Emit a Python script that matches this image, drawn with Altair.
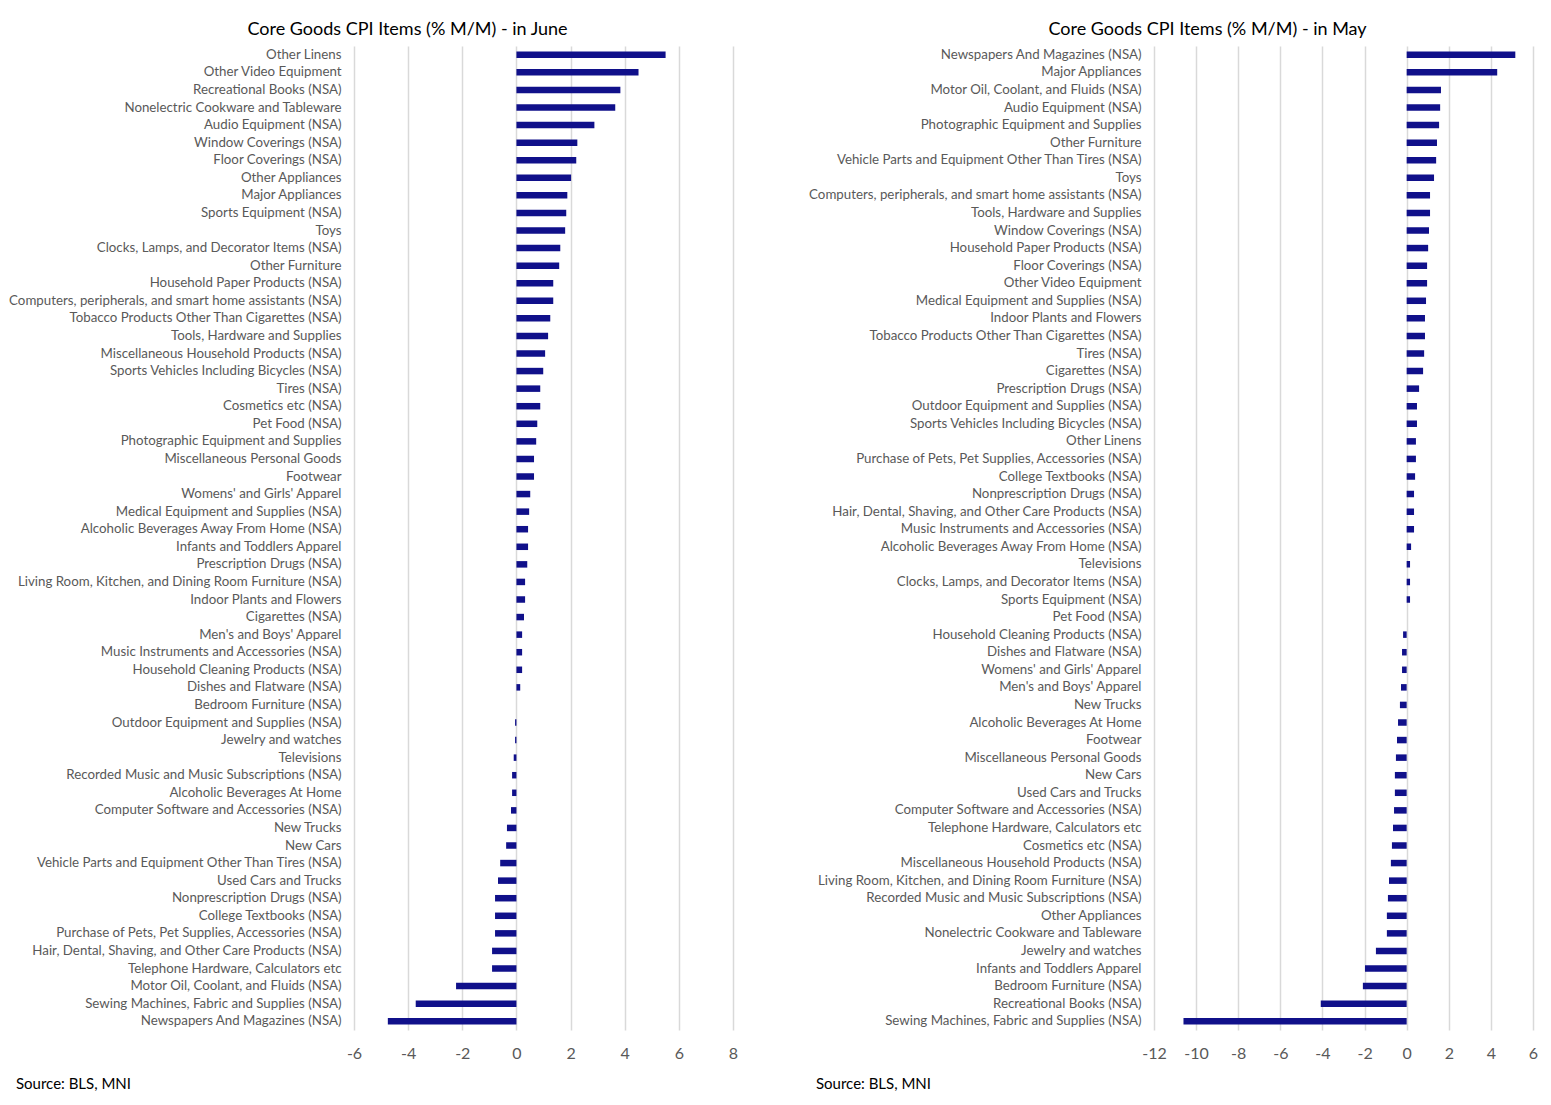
import altair as alt
import pandas as pd

june_items = [
    "Other Linens", "Other Video Equipment", "Recreational Books (NSA)",
    "Nonelectric Cookware and Tableware", "Audio Equipment (NSA)", "Window Coverings (NSA)",
    "Floor Coverings (NSA)", "Other Appliances", "Major Appliances", "Sports Equipment (NSA)",
    "Toys", "Clocks, Lamps, and Decorator Items (NSA)", "Other Furniture",
    "Household Paper Products (NSA)", "Computers, peripherals, and smart home assistants (NSA)",
    "Tobacco Products Other Than Cigarettes (NSA)", "Tools, Hardware and Supplies",
    "Miscellaneous Household Products (NSA)", "Sports Vehicles Including Bicycles (NSA)",
    "Tires (NSA)", "Cosmetics etc (NSA)", "Pet Food (NSA)", "Photographic Equipment and Supplies",
    "Miscellaneous Personal Goods", "Footwear", "Womens' and Girls' Apparel",
    "Medical Equipment and Supplies (NSA)", "Alcoholic Beverages Away From Home (NSA)",
    "Infants and Toddlers Apparel", "Prescription Drugs (NSA)",
    "Living Room, Kitchen, and Dining Room Furniture (NSA)", "Indoor Plants and Flowers",
    "Cigarettes (NSA)", "Men's and Boys' Apparel", "Music Instruments and Accessories (NSA)",
    "Household Cleaning Products (NSA)", "Dishes and Flatware (NSA)", "Bedroom Furniture (NSA)",
    "Outdoor Equipment and Supplies (NSA)", "Jewelry and watches", "Televisions",
    "Recorded Music and Music Subscriptions (NSA)", "Alcoholic Beverages At Home",
    "Computer Software and Accessories (NSA)", "New Trucks", "New Cars",
    "Vehicle Parts and Equipment Other Than Tires (NSA)", "Used Cars and Trucks",
    "Nonprescription Drugs (NSA)", "College Textbooks (NSA)",
    "Purchase of Pets, Pet Supplies, Accessories (NSA)",
    "Hair, Dental, Shaving, and Other Care Products (NSA)", "Telephone Hardware, Calculators etc",
    "Motor Oil, Coolant, and Fluids (NSA)", "Sewing Machines, Fabric and Supplies (NSA)",
    "Newspapers And Magazines (NSA)",
]
june_values = [
    5.51, 4.51, 3.84, 3.65, 2.88, 2.25, 2.21, 2.02, 1.88, 1.84,
    1.80, 1.62, 1.58, 1.36, 1.36, 1.25, 1.17, 1.06, 0.99, 0.88,
    0.88, 0.77, 0.73, 0.65, 0.65, 0.51, 0.47, 0.43, 0.43, 0.40,
    0.32, 0.32, 0.28, 0.21, 0.21, 0.21, 0.14, 0.0, -0.05, -0.05,
    -0.10, -0.16, -0.16, -0.20, -0.35, -0.38, -0.60, -0.68, -0.79, -0.79,
    -0.79, -0.90, -0.90, -2.23, -3.72, -4.75,
]

may_items = [
    "Newspapers And Magazines (NSA)", "Major Appliances", "Motor Oil, Coolant, and Fluids (NSA)",
    "Audio Equipment (NSA)", "Photographic Equipment and Supplies", "Other Furniture",
    "Vehicle Parts and Equipment Other Than Tires (NSA)", "Toys",
    "Computers, peripherals, and smart home assistants (NSA)", "Tools, Hardware and Supplies",
    "Window Coverings (NSA)", "Household Paper Products (NSA)", "Floor Coverings (NSA)",
    "Other Video Equipment", "Medical Equipment and Supplies (NSA)", "Indoor Plants and Flowers",
    "Tobacco Products Other Than Cigarettes (NSA)", "Tires (NSA)", "Cigarettes (NSA)",
    "Prescription Drugs (NSA)", "Outdoor Equipment and Supplies (NSA)",
    "Sports Vehicles Including Bicycles (NSA)", "Other Linens",
    "Purchase of Pets, Pet Supplies, Accessories (NSA)", "College Textbooks (NSA)",
    "Nonprescription Drugs (NSA)", "Hair, Dental, Shaving, and Other Care Products (NSA)",
    "Music Instruments and Accessories (NSA)", "Alcoholic Beverages Away From Home (NSA)",
    "Televisions", "Clocks, Lamps, and Decorator Items (NSA)", "Sports Equipment (NSA)",
    "Pet Food (NSA)", "Household Cleaning Products (NSA)", "Dishes and Flatware (NSA)",
    "Womens' and Girls' Apparel", "Men's and Boys' Apparel", "New Trucks",
    "Alcoholic Beverages At Home", "Footwear", "Miscellaneous Personal Goods", "New Cars",
    "Used Cars and Trucks", "Computer Software and Accessories (NSA)",
    "Telephone Hardware, Calculators etc", "Cosmetics etc (NSA)",
    "Miscellaneous Household Products (NSA)",
    "Living Room, Kitchen, and Dining Room Furniture (NSA)",
    "Recorded Music and Music Subscriptions (NSA)", "Other Appliances",
    "Nonelectric Cookware and Tableware", "Jewelry and watches", "Infants and Toddlers Apparel",
    "Bedroom Furniture (NSA)", "Recreational Books (NSA)",
    "Sewing Machines, Fabric and Supplies (NSA)",
]
may_values = [
    5.16, 4.30, 1.63, 1.59, 1.54, 1.44, 1.40, 1.30, 1.11, 1.11,
    1.06, 1.02, 0.97, 0.97, 0.92, 0.87, 0.87, 0.83, 0.78, 0.59,
    0.49, 0.49, 0.44, 0.44, 0.40, 0.35, 0.35, 0.35, 0.21, 0.16,
    0.16, 0.16, 0.0, -0.17, -0.22, -0.22, -0.27, -0.32, -0.41, -0.46,
    -0.51, -0.56, -0.56, -0.60, -0.65, -0.70, -0.75, -0.84, -0.89, -0.94,
    -0.94, -1.46, -1.98, -2.08, -4.08, -10.6,
]

june_ticks = [-6, -4, -2, 0, 2, 4, 6, 8]
may_ticks = [-12, -10, -8, -6, -4, -2, 0, 2, 4, 6]

FONT = "Lato"
BAR = "#10108A"
GRID = "#D9D9D9"
LABEL = "#595959"
W, H = 379, 984


def panel(items, values, ticks, title):
    df = pd.DataFrame({"item": items, "value": values})
    bars = alt.Chart(df).mark_bar(color=BAR).encode(
        x=alt.X(
            "value:Q",
            scale=alt.Scale(domain=[ticks[0], ticks[-1]], nice=False, zero=False),
            axis=alt.Axis(
                values=ticks, title=None, ticks=False, domain=False, grid=True,
                gridColor=GRID, gridWidth=1.5, labelFont=FONT, labelFontSize=16,
                labelColor=LABEL, labelPadding=15, labelFlush=False,
                labelExpr="datum.value < 0 ? '-' + abs(datum.value) : '' + datum.value",
            ),
        ),
        y=alt.Y(
            "item:N", sort=items,
            scale=alt.Scale(paddingInner=0.63, paddingOuter=0.315, round=False),
            axis=alt.Axis(
                title=None, ticks=False, domain=False, grid=False, labelFont=FONT,
                labelFontSize=13.3, labelColor=LABEL, labelPadding=13, labelLimit=400,
                minExtent=346, maxExtent=346,
            ),
        ),
    )
    src = alt.Chart(pd.DataFrame({"t": ["Source: BLS, MNI"]})).mark_text(
        font=FONT, fontSize=15, color="#000000", align="left", baseline="middle"
    ).encode(x=alt.value(-338), y=alt.value(1038), text="t:N")
    return alt.layer(bars, src).properties(
        width=W, height=H,
        title=alt.TitleParams(
            title, anchor="middle", dx=-136, font=FONT, fontSize=18,
            fontWeight="normal", color="#000000", offset=7,
        ),
    )


left = panel(june_items, june_values, june_ticks, "Core Goods CPI Items (% M/M) - in June")
right = panel(may_items, may_values, may_ticks, "Core Goods CPI Items (% M/M) - in May")

chart = alt.hconcat(left, right, spacing=70).properties(
    padding={"left": 0, "top": 13, "right": 0, "bottom": 0}
).configure_view(stroke=None)

chart.save("out.html", embed_options={"renderer": "svg", "actions": False})
